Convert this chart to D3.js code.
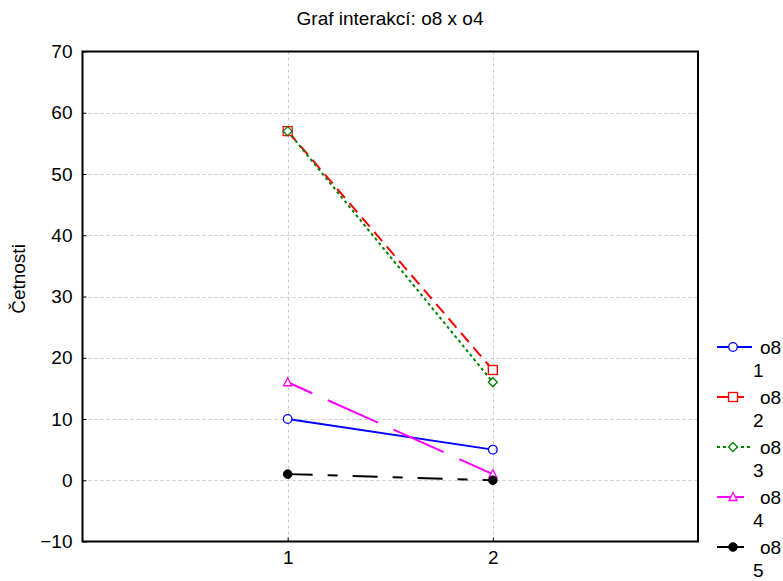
<!DOCTYPE html>
<html>
<head>
<meta charset="utf-8">
<script src="https://d3js.org/d3.v7.min.js"></script>
<style>
  html, body { margin: 0; padding: 0; background: #fff; }
  svg { display: block; font-family: "Liberation Sans", Arial, sans-serif; }
</style>
</head>
<body>
<svg id="chart" width="783" height="581"></svg>
<script>
const title = "Graf interakcí: o8 x o4";
const yLabel = "Četnosti";
const categories = [1, 2];
const xTickLabels = ["1", "2"];
const yTicks = [-10, 0, 10, 20, 30, 40, 50, 60, 70];
const seriesNames = ["o8\n1", "o8\n2", "o8\n3", "o8\n4", "o8\n5"];
const s1 = [10, 5];
const s2 = [57, 18];
const s3 = [57, 16];
const s4 = [16, 1];
const s5 = [1, 0];
const seriesValues = [s1, s2, s3, s4, s5];
const colors = ["#0000ff", "#ff0000", "#008000", "#ff00ff", "#000000"];
const dashes = [null, "12,7", "3,3", "55,17", "25,15,10,15"];
const dashOffsets = [0, 0, 0, 28, 0];
const markers = ["circle", "square", "diamond", "triangle", "dot"];

const FS = 19;
const svg = d3.select("#chart");
svg.append("rect").attr("width", 783).attr("height", 581).attr("fill", "#fff");

const pLeft = 82.5, pRight = 698, pTop = 51.5, pBottom = 541.5;
const x = d3.scaleLinear().domain([0, 3]).range([pLeft, pRight]);
const y = d3.scaleLinear().domain([-10, 70]).range([pBottom, pTop]);

// grid
const grid = svg.append("g");
grid.selectAll("line.h").data(yTicks.filter(t => t > -10 && t < 70)).join("line")
  .attr("x1", pLeft).attr("x2", pRight)
  .attr("y1", d => Math.round(y(d)) + 0.5).attr("y2", d => Math.round(y(d)) + 0.5)
  .attr("stroke", "#c8c8c8").attr("stroke-dasharray", "3,3").attr("stroke-width", 1);
grid.selectAll("line.v").data(categories).join("line")
  .attr("y1", pTop).attr("y2", pBottom)
  .attr("x1", d => Math.round(x(d)) + 0.5).attr("x2", d => Math.round(x(d)) + 0.5)
  .attr("stroke", "#c8c8c8").attr("stroke-dasharray", "3,3").attr("stroke-width", 1);

// axes
const yAxis = d3.axisLeft(y).tickValues(yTicks).tickSizeInner(-4).tickSizeOuter(0).tickPadding(10);
const gy = svg.append("g").attr("transform", `translate(${pLeft},0)`).call(yAxis);
gy.select(".domain").remove();
gy.selectAll("text").attr("font-size", FS).attr("fill", "#000").attr("font-family", "Liberation Sans, Arial, sans-serif");
gy.selectAll("line").attr("stroke", "#000");

const xAxis = d3.axisBottom(x).tickValues(categories).tickFormat((d, i) => xTickLabels[i]).tickSizeInner(-4).tickSizeOuter(0).tickPadding(9);
const gx = svg.append("g").attr("transform", `translate(0,${pBottom})`).call(xAxis);
gx.select(".domain").remove();
gx.selectAll("text").attr("font-size", FS).attr("fill", "#000").attr("font-family", "Liberation Sans, Arial, sans-serif");
gx.selectAll("line").attr("stroke", "#000");

// frame
svg.append("rect").attr("x", pLeft).attr("y", pTop).attr("width", pRight - pLeft).attr("height", pBottom - pTop)
  .attr("fill", "none").attr("stroke", "#000").attr("stroke-width", 2);

// title and y label
svg.append("text").attr("x", 390).attr("y", 25).attr("text-anchor", "middle")
  .attr("font-size", FS).text(title);
svg.append("text").attr("transform", `translate(25,279) rotate(-90)`)
  .attr("text-anchor", "middle").attr("font-size", FS).text(yLabel);

function drawMarker(g, type, cx, cy, color) {
  if (type === "circle") {
    g.append("circle").attr("cx", cx).attr("cy", cy).attr("r", 4.3).attr("fill", "#fff").attr("stroke", color).attr("stroke-width", 1.3);
  } else if (type === "square") {
    g.append("rect").attr("x", cx - 4.5).attr("y", cy - 4.5).attr("width", 9).attr("height", 9).attr("fill", "#fff").attr("stroke", color).attr("stroke-width", 1.3);
  } else if (type === "diamond") {
    g.append("path").attr("d", `M${cx},${cy - 4.5}L${cx + 4.5},${cy}L${cx},${cy + 4.5}L${cx - 4.5},${cy}Z`).attr("fill", "#fff").attr("stroke", color).attr("stroke-width", 1.3);
  } else if (type === "triangle") {
    g.append("path").attr("d", `M${cx},${cy - 4.5}L${cx + 4},${cy + 3.5}L${cx - 4},${cy + 3.5}Z`).attr("fill", "#fff").attr("stroke", color).attr("stroke-width", 1.3);
  } else {
    g.append("circle").attr("cx", cx).attr("cy", cy).attr("r", 4.3).attr("fill", color).attr("stroke", color).attr("stroke-width", 1);
  }
}

const line = d3.line().x((d, i) => x(categories[i])).y(d => y(d));
const plot = svg.append("g");
seriesValues.forEach((vals, si) => {
  plot.append("path").datum(vals).attr("d", line).attr("fill", "none")
    .attr("stroke", colors[si]).attr("stroke-width", 2)
    .attr("stroke-dasharray", dashes[si])
    .attr("stroke-dashoffset", dashOffsets[si]);
});
seriesValues.forEach((vals, si) => {
  vals.forEach((v, i) => drawMarker(plot, markers[si], x(categories[i]), y(v), colors[si]));
});

// legend
const lg = svg.append("g");
seriesNames.forEach((name, si) => {
  const ly = 347 + si * 50;
  const lineLen = (si === 0 || si === 2) ? 35 : 27;
  lg.append("line").attr("x1", 717).attr("x2", 717 + lineLen).attr("y1", ly).attr("y2", ly)
    .attr("stroke", colors[si]).attr("stroke-width", 2)
    .attr("stroke-dasharray", si === 2 ? "3,3" : null);
  drawMarker(lg, markers[si], 733, ly, colors[si]);
  const parts = name.split("\n");
  lg.append("text").attr("x", 760).attr("y", ly + 7).attr("font-size", FS).text(parts[0]);
  lg.append("text").attr("x", 753).attr("y", ly + 30).attr("font-size", FS).text(parts[1]);
});
</script>
</body>
</html>
